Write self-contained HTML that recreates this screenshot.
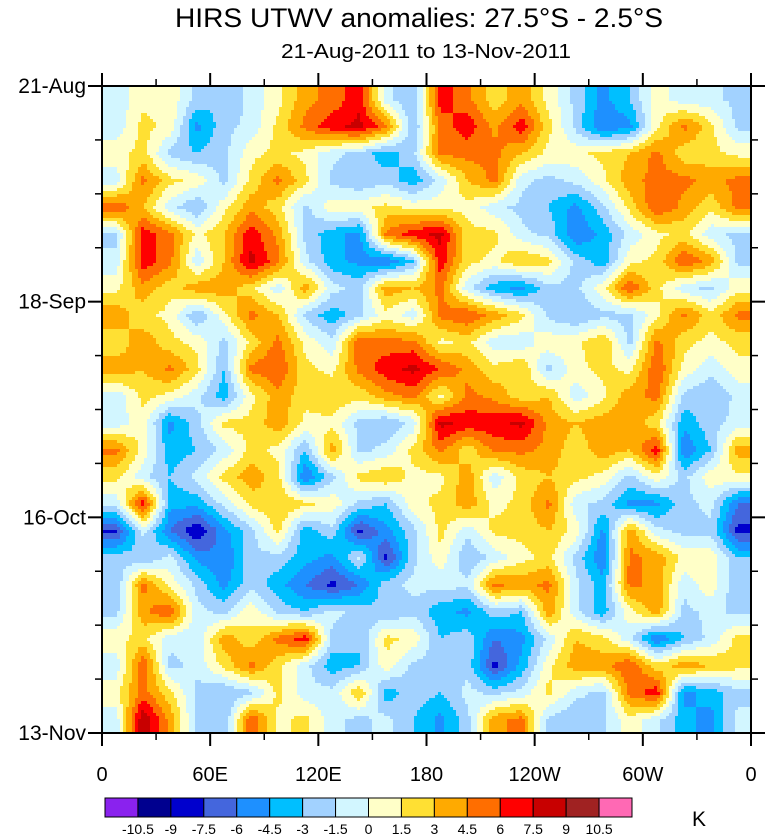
<!DOCTYPE html>
<html><head><meta charset="utf-8">
<style>
body{margin:0;background:#fff;}
svg{display:block;font-family:"Liberation Sans",sans-serif;}
</style></head>
<body>
<svg id="chart" width="770" height="834" viewBox="0 0 770 834" xmlns="http://www.w3.org/2000/svg">
<text x="419" y="27" font-size="27" text-anchor="middle" textLength="488" lengthAdjust="spacingAndGlyphs">HIRS UTWV anomalies: 27.5°S - 2.5°S</text>
<text x="426" y="58" font-size="20" text-anchor="middle" textLength="290" lengthAdjust="spacingAndGlyphs">21-Aug-2011 to 13-Nov-2011</text>
<g id="field"></g>
<g id="axes"></g>
<g id="cbar"></g>
<text x="699" y="826" font-size="21" text-anchor="middle">K</text>
</svg>
<script>
// Contour levels and colors
const levels = [-10.5,-9,-7.5,-6,-4.5,-3,-1.5,0,1.5,3,4.5,6,7.5,9,10.5];
const levelLabels = ["-10.5","-9","-7.5","-6","-4.5","-3","-1.5","0","1.5","3","4.5","6","7.5","9","10.5"];
const fillColors = ["#8a22ee","#00008f","#0000cd","#4466dd","#1e90ff","#00bfff","#a2d2ff","#d2f6ff","#ffffc8","#ffe033","#ffaa00","#ff6e00","#ff0000","#c80000","#a02222","#ff69b4"];
const xTickLabels = ["0","60E","120E","180","120W","60W","0"];
const yTickLabels = ["21-Aug","18-Sep","16-Oct","13-Nov"];
// Anomaly grid (K): 24 rows (time, top->bottom) x 24 cols (longitude), split into halves
const topLeft = [
[-1,1,1,-2,-3,-1,1,4,5,7,-1,-3],
[-1,2,1,-5,-2,-1,2,5,7,8,5,-3],
[1,2,-2,-3,-2,1,2,1,-1,-2,-4,-2],
[-1,5,2,1,-2,2,5,2,-2,-3,-2,-4],
[6,3,-1,-3,1,4,2,-2,1,1,2,1],
[-2,7,5,1,3,7,4,-2,-4,-5,5,7],
[-1,7,5,-1,3,8,5,-1,-4,-5,-6,-3],
[1,4,2,4,4,2,-1,4,-1,-2,4,3],
[4,2,1,-3,1,5,3,-2,-4,-2,1,-1],
[2,4,2,1,-2,2,5,1,-1,6,5,5],
[4,3,5,2,-3,5,6,2,1,5,7,8],
[-1,2,1,-1,-4,1,4,2,3,2,4,5]];
const topRight = [
[7,5,2,4,1,-2,-5,-3,1,-1,-1,-2],
[5,7,4,7,2,-2,-6,-5,1,5,2,-2],
[5,5,5,3,1,1,2,3,5,2,2,1],
[-1,3,5,-1,-2,-1,1,4,5,5,4,5],
[1,1,-1,-2,-3,-5,-2,2,6,4,2,5],
[8,2,2,-1,-2,-6,-4,-1,1,2,-1,-2],
[7,2,1,3,2,-2,-4,1,2,6,4,-2],
[5,-1,-4,-5,-2,-2,1,6,2,-1,-2,1],
[5,6,4,2,-2,-3,-2,-2,1,5,2,5],
[1,2,-1,-1,1,1,3,-2,5,2,1,2],
[6,4,2,3,-2,1,2,1,6,1,-1,1],
[1,5,4,2,3,-1,1,4,5,-2,-3,-1]];
const bottomLeft = [
[-1,1,-5,-2,2,2,4,1,1,-2,-3,-1],
[5,1,-4,-3,-1,2,1,-3,4,-2,-1,2],
[2,-1,-3,-1,2,4,2,-6,-2,2,3,1],
[-1,7,-4,-4,-1,2,3,2,1,-2,-3,1],
[-8,-1,-6,-9,-5,-2,2,-4,-2,-8,-5,-2],
[-2,-3,-1,-5,-6,-2,-2,-4,-5,-1,-8,-2],
[-3,5,1,-2,-5,-2,-4,-6,-8,-6,-2,-1],
[-2,4,6,-1,-2,1,-2,-3,-1,-2,-3,-2],
[1,2,-1,-1,4,2,5,7,-2,-3,2,1],
[-1,6,-2,-1,2,5,2,-1,-4,-3,1,-2],
[1,5,2,-2,-3,-2,2,-1,-1,3,-4,-2],
[-1,9,4,-2,-3,6,1,2,-1,-2,-1,-3]];
const bottomRight = [
[8,7,7,8,4,3,4,4,2,-4,-2,-1],
[5,2,5,5,4,2,4,3,7,-6,-3,4],
[1,4,-1,2,3,2,1,-2,1,-2,1,1],
[2,4,1,2,5,-1,-2,-5,-5,-2,-1,-6],
[2,-1,2,2,3,1,-5,4,-1,-2,-2,-8],
[1,-3,-1,1,2,-2,-6,5,4,1,1,-3],
[-1,-1,5,4,5,-1,-4,5,4,-1,1,-3],
[-4,-5,-2,-3,4,-1,-4,1,4,-2,-1,-2],
[-3,-2,-6,-5,-1,3,2,-1,-6,-3,-1,2],
[-2,-2,-8,-4,1,4,4,6,2,4,3,2],
[-3,-1,-2,-1,2,-1,-2,5,7,-5,-4,-2],
[-5,-2,4,5,-2,-3,-2,1,-1,-4,-5,-1]];

const NS="http://www.w3.org/2000/svg";
const X0=102, X1=751, Y0=86, Y1=733;
const grid=[];
for(let r=0;r<12;r++) grid.push(topLeft[r].concat(topRight[r]));
for(let r=0;r<12;r++) grid.push(bottomLeft[r].concat(bottomRight[r]));
const NR=grid.length, NC=grid[0].length;
function valueAt(px,py){
  let gc=(px-X0)/((X1-X0)/NC)-0.5, gr=(py-Y0)/((Y1-Y0)/NR)-0.5;
  gc=Math.max(0,Math.min(NC-1,gc)); gr=Math.max(0,Math.min(NR-1,gr));
  const c0=Math.min(NC-2,Math.floor(gc)), r0=Math.min(NR-2,Math.floor(gr));
  const fx=gc-c0, fy=gr-r0;
  const a=grid[r0][c0],b=grid[r0][c0+1],c=grid[r0+1][c0],d=grid[r0+1][c0+1];
  return a*(1-fx)*(1-fy)+b*fx*(1-fy)+c*(1-fx)*fy+d*fx*fy;
}
function levelIndex(v){let k=0;while(k<levels.length&&v>=levels[k])k++;return k;}
const field=document.getElementById('field');
const step=3;
function addRun(x,y,w,h,lev){
  const rect=document.createElementNS(NS,'rect');
  
  
  rect.setAttribute('x',x);rect.setAttribute('y',y);
  rect.setAttribute('width',w+0.5);rect.setAttribute('height',h+0.5);
  rect.setAttribute('fill',fillColors[lev]);
  field.appendChild(rect);
}
for(let py=Y0;py<Y1;py+=step){
  const h=Math.min(step,Y1-py);
  let runStart=X0, runLev=levelIndex(valueAt(X0+1,py+h/2));
  for(let px=X0+step;px<X1;px+=step){
    const lev=levelIndex(valueAt(px+1,py+h/2));
    if(lev!==runLev){
      addRun(runStart,py,px-runStart,h,runLev);
      runStart=px;runLev=lev;
    }
  }
  addRun(runStart,py,X1-runStart,h,runLev);
}
const axes=document.getElementById('axes');
function line(x1,y1,x2,y2,w,name){
  const l=document.createElementNS(NS,'line');
  
  
  l.setAttribute('x1',x1);l.setAttribute('y1',y1);l.setAttribute('x2',x2);l.setAttribute('y2',y2);
  l.setAttribute('stroke','#000');l.setAttribute('stroke-width',w);
  axes.appendChild(l);
}
function text(x,y,s,size,anchor,name,parent){
  const t=document.createElementNS(NS,'text');
  
  
  t.setAttribute('x',x);t.setAttribute('y',y);t.setAttribute('font-size',size);t.setAttribute('text-anchor',anchor);
  t.textContent=s;(parent||axes).appendChild(t);
}
const frame=document.createElementNS(NS,'rect');


frame.setAttribute('x',X0);frame.setAttribute('y',Y0);frame.setAttribute('width',X1-X0);frame.setAttribute('height',Y1-Y0);
frame.setAttribute('fill','none');frame.setAttribute('stroke','#000');frame.setAttribute('stroke-width',2);
axes.appendChild(frame);
const nX=xTickLabels.length-1, dx=(X1-X0)/nX;
for(let i=0;i<=nX;i++){
  const x=X0+i*dx;
  line(x,Y1,x,Y1+13,2,'x-major-tick');line(x,Y0,x,Y0-13,2,'x-major-tick-top');
  text(x,781,xTickLabels[i],20,'middle','x-tick-label');
  if(i<nX){const xm=x+dx/2;line(xm,Y1,xm,Y1+7,1.5,'x-minor-tick');line(xm,Y0,xm,Y0-7,1.5,'x-minor-tick-top');}
}
const nY=yTickLabels.length-1, dy=(Y1-Y0)/nY;
for(let i=0;i<=nY;i++){
  const y=Y0+i*dy;
  line(X0,y,X0-14,y,2,'y-major-tick');line(X1,y,X1+14,y,2,'y-major-tick-right');
  text(86,y+7,yTickLabels[i],21,'end','y-tick-label');
  if(i<nY){for(let k=1;k<4;k++){const ym=y+k*dy/4;line(X0,ym,X0-7,ym,1.5,'y-minor-tick');line(X1,ym,X1+7,ym,1.5,'y-minor-tick-right');}}
}
const cbar=document.getElementById('cbar');
const CB0=105, CB1=632, CBy=798, CBh=19, bw=(CB1-CB0)/fillColors.length;
for(let k=0;k<fillColors.length;k++){
  const r=document.createElementNS(NS,'rect');
  
  
  r.setAttribute('x',CB0+k*bw);r.setAttribute('y',CBy);r.setAttribute('width',bw);r.setAttribute('height',CBh);
  r.setAttribute('fill',fillColors[k]);r.setAttribute('stroke','#000');r.setAttribute('stroke-width',1);
  cbar.appendChild(r);
}
for(let k=0;k<levelLabels.length;k++){
  text(CB0+(k+1)*bw,834,levelLabels[k],14,'middle','colorbar-label',cbar);
}
</script>
</body></html>
